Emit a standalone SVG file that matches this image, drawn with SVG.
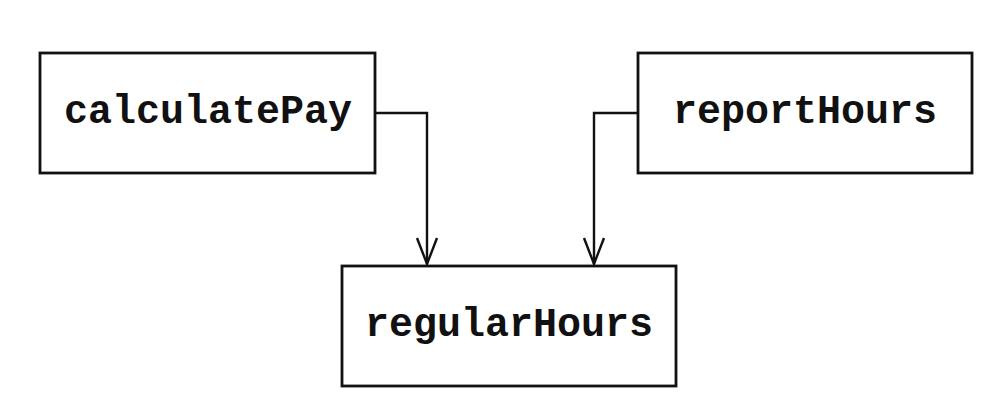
<svg xmlns="http://www.w3.org/2000/svg" width="1000" height="402" viewBox="0 0 1000 402">
<style>
.box{fill:#fff;stroke:#111;stroke-width:2.8}
.lbl{font-family:"Liberation Mono","Courier New",monospace;font-weight:bold;font-size:40px;fill:#111;text-anchor:middle}
.conn{fill:none;stroke:#111;stroke-width:2.4}
.ah{fill:none;stroke:#111;stroke-width:2.4}
</style>
<rect width="1000" height="402" fill="#fff"/>
<g id="calculatePay"><rect class="box" x="40" y="53" width="335" height="120"/><text class="lbl" x="208" y="123">calculatePay</text></g>
<g id="reportHours"><rect class="box" x="638" y="53" width="334" height="120"/><text class="lbl" x="805" y="123">reportHours</text></g>
<g id="regularHours"><rect class="box" x="342" y="266" width="334" height="120"/><text class="lbl" x="509" y="336">regularHours</text></g>
<g id="connectors">
<path class="conn" d="M375 113 H427 V264"/>
<path class="ah" d="M417 238 L427 264 L437 238"/>
<path class="conn" d="M638 113 H594 V264"/>
<path class="ah" d="M584 238 L594 264 L604 238"/>
</g>
</svg>
